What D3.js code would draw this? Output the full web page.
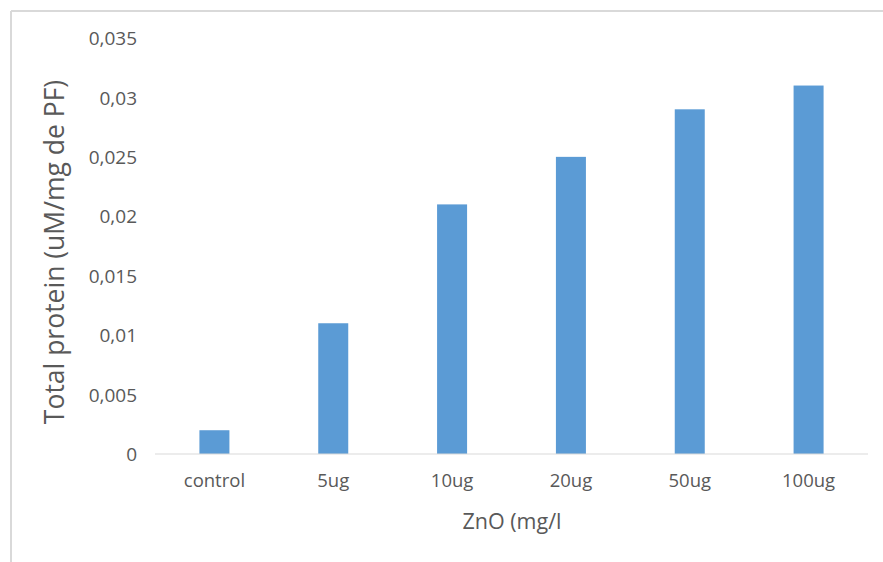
<!DOCTYPE html>
<html>
<head>
<meta charset="utf-8">
<script src="https://cdn.jsdelivr.net/npm/d3@7"></script>
<style>
  html, body { margin: 0; padding: 0; background: #fff; }
  text { font-family: "Open Sans", "Noto Sans", sans-serif; fill: #595959; }
</style>
</head>
<body>
<svg id="chart" width="883" height="562"></svg>
<script>
// Total protein by ZnO concentration
const categories = ["control", "5ug", "10ug", "20ug", "50ug", "100ug"];
const proteinValues = [0.002, 0.011, 0.021, 0.025, 0.029, 0.031];
const yTickValues = [0, 0.005, 0.01, 0.015, 0.02, 0.025, 0.03, 0.035];
const yTickLabels = ["0", "0,005", "0,01", "0,015", "0,02", "0,025", "0,03", "0,035"];
const xTitle = "ZnO (mg/l";
const yTitle = "Total protein (uM/mg de PF)";

const svg = d3.select("#chart");
const W = 883, H = 562;

// chart area frame
svg.append("line").attr("x1", 11).attr("x2", W).attr("y1", 11).attr("y2", 11)
  .attr("stroke", "#d9d9d9").attr("stroke-width", 2);
svg.append("line").attr("x1", 11).attr("x2", 11).attr("y1", 11).attr("y2", H)
  .attr("stroke", "#d9d9d9").attr("stroke-width", 2);

const plot = { left: 155, right: 868, top: 38, bottom: 454 };

const x = d3.scaleBand().domain(categories).range([plot.left, plot.right]).padding(0);
const y = d3.scaleLinear().domain([0, 0.035]).range([plot.bottom, plot.top]);

const barWidth = 30;

svg.append("g").selectAll("rect").data(categories).join("rect")
  .attr("x", d => x(d) + x.bandwidth() / 2 - barWidth / 2)
  .attr("width", barWidth)
  .attr("y", (d, i) => y(proteinValues[i]))
  .attr("height", (d, i) => y(0) - y(proteinValues[i]))
  .attr("fill", "#5b9bd5");

// baseline
svg.append("line").attr("x1", plot.left).attr("x2", plot.right)
  .attr("y1", y(0)).attr("y2", y(0)).attr("stroke", "#d9d9d9").attr("stroke-width", 1);

// y axis labels
const yAxis = d3.axisLeft(y).tickValues(yTickValues)
  .tickFormat((d, i) => yTickLabels[i]).tickSize(0).tickPadding(0);
const gy = svg.append("g").attr("transform", `translate(137,0)`).call(yAxis);
gy.select(".domain").remove();
gy.selectAll("text").attr("font-size", 19).style("font-family", "'Open Sans', sans-serif")
  .attr("fill", "#595959").attr("dy", "0.35em");

// x axis labels
const xAxis = d3.axisBottom(x).tickSize(0).tickPadding(0);
const gx = svg.append("g").attr("transform", `translate(0,${plot.bottom + 20})`).call(xAxis);
gx.select(".domain").remove();
gx.selectAll("text").attr("font-size", 18.5).style("font-family", "'Open Sans', sans-serif")
  .attr("fill", "#595959").attr("dy", "0.71em");

// axis titles
svg.append("text").attr("x", 512).attr("y", 523)
  .attr("text-anchor", "middle").attr("dominant-baseline", "middle")
  .attr("font-size", 21.5).text(xTitle);

svg.append("text")
  .attr("transform", `translate(57,252) rotate(-90)`)
  .attr("text-anchor", "middle").attr("dominant-baseline", "middle")
  .attr("font-size", 26.5).text(yTitle);
</script>
</body>
</html>
